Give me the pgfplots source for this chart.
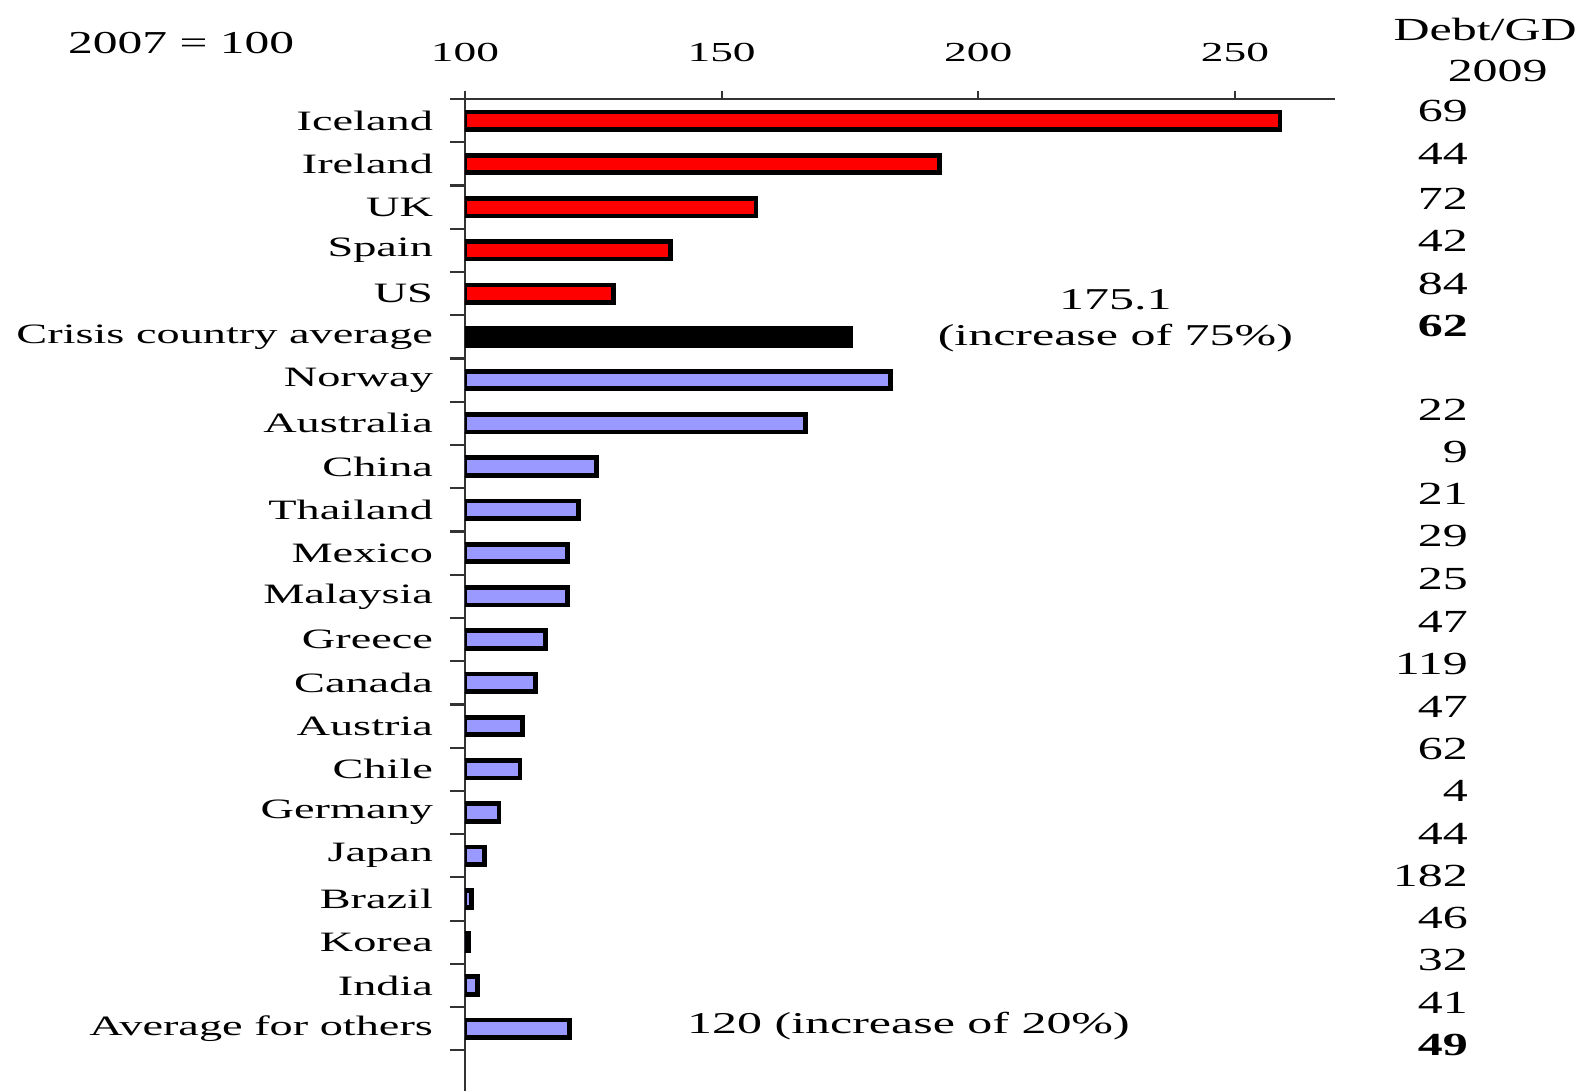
\documentclass[border=0pt]{standalone}
\usepackage{pgfplots}
\pgfplotsset{compat=1.18}
\usepackage{fontspec}
\setmainfont{Liberation Serif}[FakeStretch=1.65]
\newfontfamily\colfont{Liberation Serif}[FakeStretch=1.55]
\definecolor{crisisred}{HTML}{FF0000}
\definecolor{otherblue}{HTML}{9999FF}

\begin{document}
\begin{tikzpicture}
\begin{axis}[
    scale only axis,
    width=313.2pt, height=357.1pt,
    xmin=100, xmax=269.5,
    ymin=-1.44, ymax=21.5,
    axis x line*=top, axis y line*=left,
    axis line style={-, black!80, line width=0.8pt},
    xbar, bar width=6.3pt, bar shift=0pt,
    clip mode=individual,
    xtick={100,150,200,250},
    xticklabel pos=right,
    tick align=outside,
    major tick length=3pt,
    minor tick length=5.4pt,
    tick style={black!80, line width=0.8pt},
    ytick={0,...,21},
    yticklabels={Average for others, India, Korea, Brazil, Japan, Germany, Chile, Austria, Canada, Greece, Malaysia, Mexico, Thailand, China, Australia, Norway, Crisis country average, US, Spain, UK, Ireland, Iceland},
    major y tick style={draw=none},
    minor ytick={-0.5,0.5,...,21.5},
    /pgf/number format/assume math mode=true,
    xticklabel style={font=\fontsize{9.9}{11}\selectfont, yshift=7pt},
    yticklabel style={font=\fontsize{10.1}{12}\selectfont, xshift=-5pt},
]
% crisis countries
\addplot[fill=crisisred, draw=black, line width=1.7pt] coordinates {
(258.8,21) (192.5,20) (156.7,19) (140.0,18) (129.0,17)
};
\addplot[fill=black, draw=black, line width=1.7pt] coordinates {(175.1,16)};
% others
\addplot[fill=otherblue, draw=black, line width=1.7pt] coordinates {
(182.9,15) (166.4,14) (125.6,13) (122.1,12) (119.9,11) (119.9,10)
(115.7,9) (113.7,8) (111.2,7) (110.7,6) (106.6,5) (103.8,4)
(101.2,3) (100.7,2) (102.5,1) (120.3,0)
};

\node[font=\fontsize{10.9}{12}\selectfont] at (axis cs:226.7,16.86) {175.1};
\node[font=\fontsize{10.9}{12}\selectfont] at (axis cs:226.7,15.98) {(increase of 75\%)};
\node[font=\fontsize{10.9}{12}\selectfont] at (axis cs:186.4,0.06) {120 (increase of 20\%)};
\node[font=\colfont\fontsize{11.5}{14}\selectfont] at (axis cs:44.7,22.8) {2007 = 100};
\node[anchor=west, inner sep=0pt, font=\colfont\fontsize{11.6}{13}\selectfont] at (axis cs:280.8,23.11) {Debt/GD};
\node[inner sep=0pt, font=\colfont\fontsize{11.6}{13}\selectfont] at (axis cs:301.2,22.15) {2009};

% Debt/GDP 2009 column
\node[anchor=east, inner sep=0pt, font=\colfont\fontsize{11.6}{13}\selectfont] at (axis cs:295.5,21.22) {69};
\node[anchor=east, inner sep=0pt, font=\colfont\fontsize{11.6}{13}\selectfont] at (axis cs:295.5,20.22) {44};
\node[anchor=east, inner sep=0pt, font=\colfont\fontsize{11.6}{13}\selectfont] at (axis cs:295.5,19.19) {72};
\node[anchor=east, inner sep=0pt, font=\colfont\fontsize{11.6}{13}\selectfont] at (axis cs:295.5,18.21) {42};
\node[anchor=east, inner sep=0pt, font=\colfont\fontsize{11.6}{13}\selectfont] at (axis cs:295.5,17.23) {84};
\node[anchor=east, inner sep=0pt, font=\colfont\bfseries\fontsize{11.6}{13}\selectfont] at (axis cs:295.5,16.26) {62};
\node[anchor=east, inner sep=0pt, font=\colfont\fontsize{11.6}{13}\selectfont] at (axis cs:295.5,14.32) {22};
\node[anchor=east, inner sep=0pt, font=\colfont\fontsize{11.6}{13}\selectfont] at (axis cs:295.5,13.34) {9};
\node[anchor=east, inner sep=0pt, font=\colfont\fontsize{11.6}{13}\selectfont] at (axis cs:295.5,12.36) {21};
\node[anchor=east, inner sep=0pt, font=\colfont\fontsize{11.6}{13}\selectfont] at (axis cs:295.5,11.39) {29};
\node[anchor=east, inner sep=0pt, font=\colfont\fontsize{11.6}{13}\selectfont] at (axis cs:295.5,10.39) {25};
\node[anchor=east, inner sep=0pt, font=\colfont\fontsize{11.6}{13}\selectfont] at (axis cs:295.5,9.40) {47};
\node[anchor=east, inner sep=0pt, font=\colfont\fontsize{11.6}{13}\selectfont] at (axis cs:295.5,8.43) {119};
\node[anchor=east, inner sep=0pt, font=\colfont\fontsize{11.6}{13}\selectfont] at (axis cs:295.5,7.45) {47};
\node[anchor=east, inner sep=0pt, font=\colfont\fontsize{11.6}{13}\selectfont] at (axis cs:295.5,6.47) {62};
\node[anchor=east, inner sep=0pt, font=\colfont\fontsize{11.6}{13}\selectfont] at (axis cs:295.5,5.49) {4};
\node[anchor=east, inner sep=0pt, font=\colfont\fontsize{11.6}{13}\selectfont] at (axis cs:295.5,4.51) {44};
\node[anchor=east, inner sep=0pt, font=\colfont\fontsize{11.6}{13}\selectfont] at (axis cs:295.5,3.53) {182};
\node[anchor=east, inner sep=0pt, font=\colfont\fontsize{11.6}{13}\selectfont] at (axis cs:295.5,2.56) {46};
\node[anchor=east, inner sep=0pt, font=\colfont\fontsize{11.6}{13}\selectfont] at (axis cs:295.5,1.58) {32};
\node[anchor=east, inner sep=0pt, font=\colfont\fontsize{11.6}{13}\selectfont] at (axis cs:295.5,0.60) {41};
\node[anchor=east, inner sep=0pt, font=\colfont\bfseries\fontsize{11.6}{13}\selectfont] at (axis cs:295.5,-0.38) {49};
\end{axis}
\pgfresetboundingbox
\path (-167.4pt,0pt) rectangle (401.4pt,392.76pt);
\end{tikzpicture}
\end{document}
